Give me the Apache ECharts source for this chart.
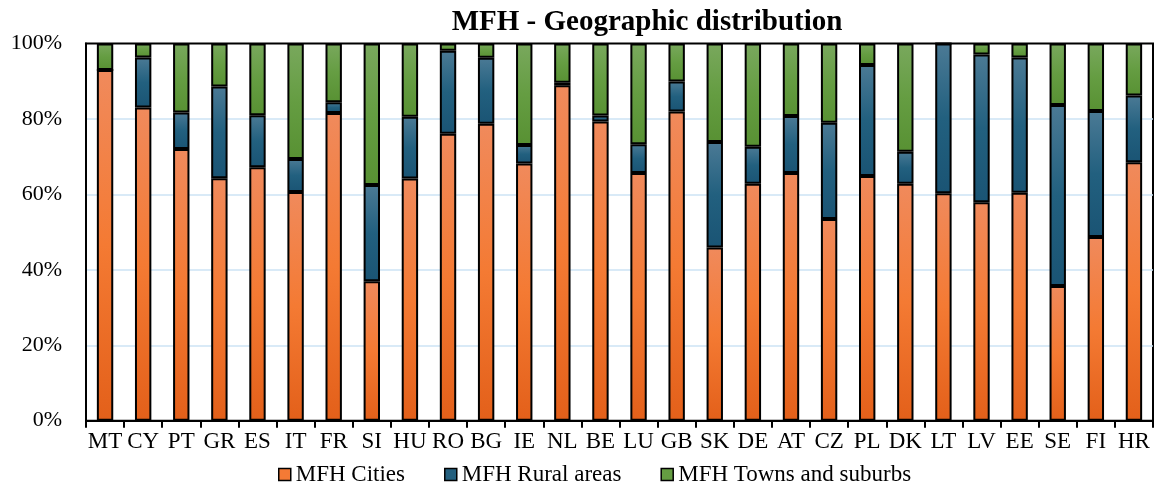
<!DOCTYPE html>
<html>
<head>
<meta charset="utf-8">
<script src="https://cdn.jsdelivr.net/npm/echarts@6/dist/echarts.min.js"></script>
<style>
  html, body { margin: 0; padding: 0; background: #fff; }
  #chart { width: 1158px; height: 488px; }
</style>
</head>
<body>
<div id="chart"></div>
<script>
// Country codes along the x axis
const countries = ['MT','CY','PT','GR','ES','IT','FR','SI','HU','RO','BG','IE','NL','BE','LU','GB','SK','DE','AT','CZ','PL','DK','LT','LV','EE','SE','FI','HR'];

// Share of multi-family houses (%) by area type
const cities = [93.0, 83.0, 72.0, 64.3, 67.2, 60.6, 81.6, 37.0, 64.2, 76.1, 78.7, 68.2, 88.9, 79.3, 65.7, 82.0, 45.9, 62.8, 65.7, 53.5, 64.9, 62.8, 60.3, 57.9, 60.4, 35.7, 48.7, 68.5];
const rural  = [0.0, 13.3, 9.7, 24.3, 13.8, 8.8, 2.8, 25.5, 16.4, 22.0, 17.5, 4.9, 0.7, 1.6, 7.6, 7.9, 28.0, 9.8, 15.1, 25.5, 29.4, 8.5, 39.7, 39.2, 35.9, 48.0, 33.4, 17.7];
const towns  = [7.0, 3.7, 18.3, 11.4, 19.0, 30.6, 15.6, 37.5, 19.4, 1.9, 3.8, 26.9, 10.4, 19.1, 26.7, 10.1, 26.1, 27.4, 19.2, 21.0, 5.7, 28.7, 0.0, 2.9, 3.7, 16.3, 17.9, 13.8];

const yTicks = [0, 20, 40, 60, 80, 100];

const serif = '"Liberation Serif", "DejaVu Serif", serif';

function grad(top, mid, bottom) {
  return new echarts.graphic.LinearGradient(0, 0, 0, 1, [
    { offset: 0, color: top },
    { offset: 0.5, color: mid },
    { offset: 1, color: bottom }
  ]);
}

const palette = {
  cities: grad('#f08a5c', '#f47a33', '#e3601a'),
  rural: grad('#4b7a95', '#22607f', '#1a5474'),
  towns: grad('#79a85d', '#659d42', '#589133')
};

function barSeries(name, data, color) {
  return {
    name: name,
    type: 'bar',
    stack: 'total',
    barWidth: '43%',
    data: data,
    itemStyle: { color: color, borderColor: '#000', borderWidth: 2 },
    emphasis: { disabled: true }
  };
}

const chart = echarts.init(document.getElementById('chart'));
chart.setOption({
  animation: false,
  backgroundColor: '#fff',
  title: {
    text: 'MFH - Geographic distribution',
    left: 642,
    top: 3,
    textAlign: 'center',
    textStyle: { fontFamily: serif, fontWeight: 'bold', fontSize: 29, color: '#000' }
  },
  legend: {
    top: 463,
    left: 278,
    padding: 0,
    itemWidth: 12,
    itemHeight: 12,
    itemGap: 39,
    icon: 'rect',
    textStyle: { fontFamily: serif, fontSize: 23, color: '#000' },
    data: [
      { name: 'MFH Cities', itemStyle: { color: '#f47a35', borderColor: '#000', borderWidth: 1.5 } },
      { name: 'MFH Rural areas', itemStyle: { color: '#24607f', borderColor: '#000', borderWidth: 1.5 } },
      { name: 'MFH Towns and suburbs', itemStyle: { color: '#659d42', borderColor: '#000', borderWidth: 1.5 } }
    ]
  },
  grid: {
    left: 86, right: 5, top: 43.5, bottom: 67.3,
    show: true, borderColor: '#000', borderWidth: 2
  },
  xAxis: {
    type: 'category',
    data: countries,
    axisLine: { lineStyle: { color: '#000', width: 2 } },
    axisTick: { show: true, length: 7, lineStyle: { color: '#000', width: 2 } },
    axisLabel: { fontFamily: serif, fontSize: 23, color: '#000', margin: 10, interval: 0 }
  },
  yAxis: {
    type: 'value',
    min: yTicks[0],
    max: yTicks[yTicks.length - 1],
    interval: 20,
    axisLine: { show: true, lineStyle: { color: '#000', width: 2 } },
    axisTick: { show: false },
    axisLabel: { fontFamily: serif, fontSize: 22, color: '#000', margin: 24, formatter: '{value}%' },
    splitLine: { showMinLine: false, showMaxLine: false, lineStyle: { color: '#cde3f5', width: 1.5 } }
  },
  series: [
    barSeries('MFH Cities', cities, palette.cities),
    barSeries('MFH Rural areas', rural, palette.rural),
    barSeries('MFH Towns and suburbs', towns, palette.towns)
  ]
});
</script>
</body>
</html>
